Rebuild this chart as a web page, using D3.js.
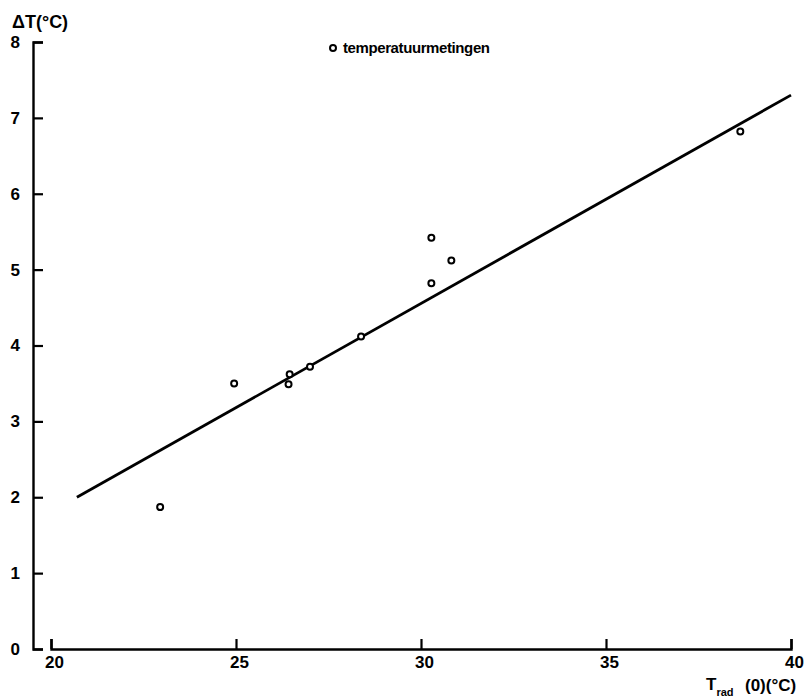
<!DOCTYPE html>
<html>
<head>
<meta charset="utf-8">
<script src="https://cdn.jsdelivr.net/npm/d3@7"></script>
<style>
  body { margin: 0; background: #fff; }
  svg { display: block; }
  text { font-family: "Liberation Sans", Arial, sans-serif; font-weight: bold; fill: #000; }
</style>
</head>
<body>
<svg id="chart" width="808" height="698"></svg>
<script>
// measured points (T_rad(0) in °C, delta T in °C)
const tRad = [22.95, 24.95, 26.45, 26.42, 27.0, 28.38, 30.28, 30.28, 30.82, 38.63];
const deltaT = [1.87, 3.50, 3.62, 3.49, 3.72, 4.12, 5.42, 4.82, 5.12, 6.82];

// regression line end points
const fitX = [20.7, 40];
const fitY = [2.0, 7.3];

const xTicks = [20, 25, 30, 35, 40];
const yTicks = [0, 1, 2, 3, 4, 5, 6, 7, 8];

let svg = d3.select("#chart");

let x = d3.scaleLinear().domain([20, 40]).range([51, 791]);
let y = d3.scaleLinear().domain([0, 8]).range([649, 42]);

// y axis, ticks pointing inward
let yAxis = svg.append("g")
    .attr("transform", "translate(33,0)")
    .call(d3.axisLeft(y).tickValues(yTicks).tickFormat(d3.format("d"))
        .tickSizeInner(-10).tickSizeOuter(-10).tickPadding(13));

// x axis, separate from y axis, ticks pointing up
let xAxis = svg.append("g")
    .attr("transform", "translate(0,649)")
    .call(d3.axisBottom(x).tickValues(xTicks).tickFormat(d3.format("d"))
        .tickSizeInner(-10).tickSizeOuter(-10).tickPadding(7));

[yAxis, xAxis].forEach(function (g) {
    g.select(".domain").attr("stroke", "#000").attr("stroke-width", 2.4);
    g.selectAll(".tick line").attr("stroke", "#000").attr("stroke-width", 2.2);
    g.selectAll(".tick text")
        .style("font-size", "17px")
        .style("font-family", "'Liberation Sans', Arial, sans-serif")
        .style("font-weight", "bold");
});
xAxis.selectAll(".tick text").attr("dx", 3);

// fitted line
let line = d3.line().x(d => x(d[0])).y(d => y(d[1]));
svg.append("path")
    .datum(d3.zip(fitX, fitY))
    .attr("d", line)
    .attr("fill", "none")
    .attr("stroke", "#000")
    .attr("stroke-width", 2.8);

// measurement points
svg.append("g")
    .selectAll("circle")
    .data(d3.zip(tRad, deltaT))
    .join("circle")
    .attr("cx", d => x(d[0]))
    .attr("cy", d => y(d[1]))
    .attr("r", 3)
    .attr("fill", "#fff")
    .attr("stroke", "#000")
    .attr("stroke-width", 2);

// legend
svg.append("circle")
    .attr("cx", 333).attr("cy", 48).attr("r", 3)
    .attr("fill", "#fff").attr("stroke", "#000").attr("stroke-width", 2);
svg.append("text")
    .attr("x", 343).attr("y", 53)
    .style("font-size", "15px")
    .style("letter-spacing", "-0.4px")
    .text("temperatuurmetingen");

// y axis title
svg.append("text")
    .attr("x", 12).attr("y", 28)
    .style("font-size", "18px")
    .text("ΔT(°C)");

// x axis title
let xt = svg.append("text")
    .attr("x", 706).attr("y", 690)
    .style("font-size", "17px");
xt.append("tspan").text("T");
xt.append("tspan").attr("dy", 6).style("font-size", "11px").text("rad");
xt.append("tspan").attr("x", 745).attr("y", 691).text("(0)(°C)");
</script>
</body>
</html>
